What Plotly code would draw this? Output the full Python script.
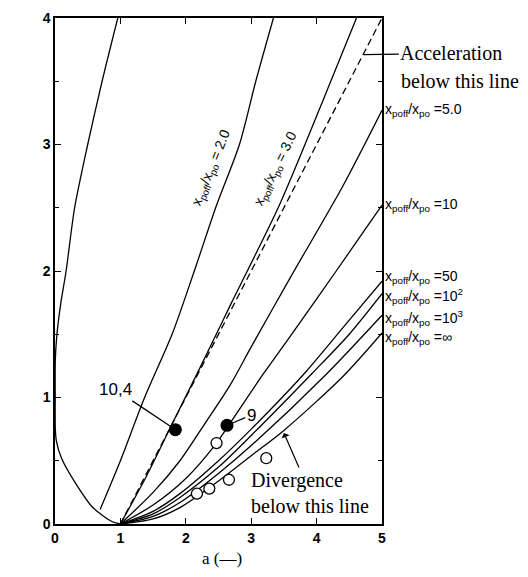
import plotly.graph_objects as go

# ---- data (a, lambda*tau) ----
curve_u_a  = [0.96, 0.72, 0.50, 0.30, 0.17, 0.09, 0.03, 0.005, 0.003, 0.005, 0.02, 0.10, 0.33, 0.58, 0.87, 1.0]
curve_u_lt = [4.00, 3.50, 3.00, 2.50, 2.00, 1.75, 1.50, 1.30, 1.00, 0.75, 0.66, 0.52, 0.31, 0.13, 0.02, 0.0]

r2_a  = [0.69, 1.00, 1.37, 1.79, 2.13, 2.47, 2.82, 3.07, 3.34]
r2_lt = [0.115, 0.50, 1.00, 1.50, 2.00, 2.52, 3.00, 3.50, 4.00]

r3_a  = [1.00, 1.40, 1.80, 2.25, 2.70, 3.43, 4.06, 4.61]
r3_lt = [0.00, 0.38, 0.80, 1.27, 1.75, 2.52, 3.30, 4.00]

r5_a  = [1.00, 1.50, 1.91, 2.30, 2.68, 3.00, 3.60, 4.40, 5.00]
r5_lt = [0.00, 0.25, 0.50, 0.80, 1.10, 1.40, 1.95, 2.67, 3.27]

r10_a  = [1.00, 1.50, 2.00, 2.47, 2.63, 3.19, 3.55, 4.30, 5.00]
r10_lt = [0.00, 0.15, 0.36, 0.64, 0.76, 1.19, 1.45, 2.00, 2.52]

r50_a  = [1.00, 1.50, 1.91, 2.50, 3.00, 3.83, 4.40, 5.00]
r50_lt = [0.00, 0.10, 0.24, 0.50, 0.75, 1.20, 1.55, 1.92]

r1e2_a  = [1.00, 1.50, 1.91, 2.50, 3.00, 3.93, 4.50, 5.00]
r1e2_lt = [0.00, 0.08, 0.21, 0.45, 0.70, 1.19, 1.50, 1.82]

r1e3_a  = [1.00, 1.50, 1.91, 2.50, 3.00, 4.16, 5.00]
r1e3_lt = [0.00, 0.06, 0.17, 0.40, 0.62, 1.19, 1.65]

rinf_a  = [1.00, 1.50, 1.91, 2.50, 3.00, 3.50, 4.41, 5.00]
rinf_lt = [0.00, 0.04, 0.13, 0.34, 0.54, 0.74, 1.17, 1.51]

accel_a  = [1.0, 5.0]
accel_lt = [0.0, 4.0]

filled_a  = [1.84, 2.63]
filled_lt = [0.746, 0.78]
filled_labels = ["10,4", "9"]

open_a  = [2.47, 3.23, 2.66, 2.36, 2.17]
open_lt = [0.64, 0.52, 0.35, 0.28, 0.24]

right_labels = ["5.0", "10", "50", "10<sup>2</sup>", "10<sup>3</sup>", "∞"]
right_label_lt = [3.27, 2.52, 1.95, 1.80, 1.63, 1.47]

x_ticks = [0, 1, 2, 3, 4, 5]
y_ticks = [0, 1, 2, 3, 4]

# ---- figure ----
fig = go.Figure()
line_style = dict(color="black", width=1.3, shape="spline", smoothing=0.8)
for xa, ya in [(curve_u_a, curve_u_lt), (r2_a, r2_lt), (r3_a, r3_lt), (r5_a, r5_lt),
               (r10_a, r10_lt), (r50_a, r50_lt), (r1e2_a, r1e2_lt), (r1e3_a, r1e3_lt),
               (rinf_a, rinf_lt)]:
    fig.add_trace(go.Scatter(x=xa, y=ya, mode="lines", line=line_style,
                             hoverinfo="skip", showlegend=False))

fig.add_trace(go.Scatter(x=accel_a, y=accel_lt, mode="lines",
                         line=dict(color="black", width=1.3, dash="7px,4px"),
                         showlegend=False, hoverinfo="skip"))

fig.add_trace(go.Scatter(x=open_a, y=open_lt, mode="markers",
                         marker=dict(size=11, color="white", line=dict(color="black", width=1.3)),
                         showlegend=False, cliponaxis=False))
fig.add_trace(go.Scatter(x=filled_a, y=filled_lt, mode="markers",
                         marker=dict(size=13, color="black"),
                         showlegend=False, cliponaxis=False))

sans = "Liberation Sans, Arial, sans-serif"
serif = "Liberation Serif, Times New Roman, serif"

ann = []
# curve labels along the lines
ann.append(dict(x=2.40, y=2.82, xref="x", yref="y", showarrow=False, textangle=-68,
                text="x<sub>poff</sub>/x<sub>po</sub> = 2.0",
                font=dict(family=sans, size=14, color="black")))
ann.append(dict(x=3.37, y=2.81, xref="x", yref="y", showarrow=False, textangle=-64,
                text="x<sub>poff</sub>/x<sub>po</sub> = 3.0",
                font=dict(family=sans, size=14, color="black")))
# right side labels
for lab, yv in zip(right_labels, right_label_lt):
    ann.append(dict(x=5, y=yv, xref="x", yref="y", xanchor="left", yanchor="middle",
                    xshift=1, showarrow=False,
                    text="x<sub>poff</sub>/x<sub>po</sub> =" + lab,
                    font=dict(family=sans, size=14, color="black")))
# point labels
ann.append(dict(x=filled_a[0], y=filled_lt[0], ax=0.93, ay=1.06, xref="x", yref="y",
                axref="x", ayref="y", text=filled_labels[0], showarrow=True, arrowhead=0,
                arrowwidth=1.3, arrowcolor="black", standoff=6,
                font=dict(family=sans, size=17, color="black")))
ann.append(dict(x=filled_a[1], y=filled_lt[1], ax=3.00, ay=0.86, xref="x", yref="y",
                axref="x", ayref="y", text=filled_labels[1], showarrow=True, arrowhead=0,
                arrowwidth=1.3, arrowcolor="black", standoff=6,
                font=dict(family=sans, size=17, color="black")))
# divergence note
ann.append(dict(x=3.50, y=0.72, ax=3.90, ay=0.245, xref="x", yref="y", axref="x", ayref="y",
                text="Divergence<br>below this line", align="left", showarrow=True,
                arrowhead=1, arrowsize=1.2, arrowwidth=1.2, arrowcolor="black",
                font=dict(family=serif, size=20, color="black")))
# acceleration note
ann.append(dict(x=4.72, y=3.71, ax=6.06, ay=3.72, xref="x", yref="y", axref="x", ayref="y",
                text="Acceleration", showarrow=True, arrowhead=0, arrowwidth=1.2,
                arrowcolor="black", font=dict(family=serif, size=20, color="black")))
ann.append(dict(x=5.0, y=3.50, xref="x", yref="y", xanchor="left", xshift=17, showarrow=False,
                text="below this line", font=dict(family=serif, size=20, color="black")))
# axis titles
ann.append(dict(x=-0.45, y=2.55, xref="x", yref="y", showarrow=False, textangle=-90,
                text="λ τ (—)", font=dict(family=serif, size=17, color="black")))
ann.append(dict(x=2.55, y=0, xref="x", yref="paper", yshift=-46, showarrow=False,
                text="a (—)", font=dict(family=serif, size=17, color="black")))

fig.update_layout(
    width=528, height=577,
    margin=dict(l=55, r=146, t=10, b=53),
    paper_bgcolor="white", plot_bgcolor="white",
    annotations=ann,
    xaxis=dict(range=[0, 5], tickvals=x_ticks, ticks="inside", ticklen=6, tickwidth=1.3,
               tickcolor="black",
               showline=True, linecolor="black", linewidth=1.5, mirror="ticks",
               showgrid=False, zeroline=False,
               tickfont=dict(family=sans, size=14, weight="bold", color="black")),
    yaxis=dict(range=[0, 4], tickvals=y_ticks, ticks="inside", ticklen=6, tickwidth=1.3,
               tickcolor="black",
               showline=True, linecolor="black", linewidth=1.5, mirror="ticks",
               showgrid=False, zeroline=False,
               minor=dict(dtick=0.5, ticks="inside", ticklen=4, tickwidth=1,
                          tickcolor="black", showgrid=False),
               tickfont=dict(family=sans, size=14, weight="bold", color="black")),
)

fig.write_html("out.html", config={"displayModeBar": False},
               post_script="document.body.style.margin='0px';")
